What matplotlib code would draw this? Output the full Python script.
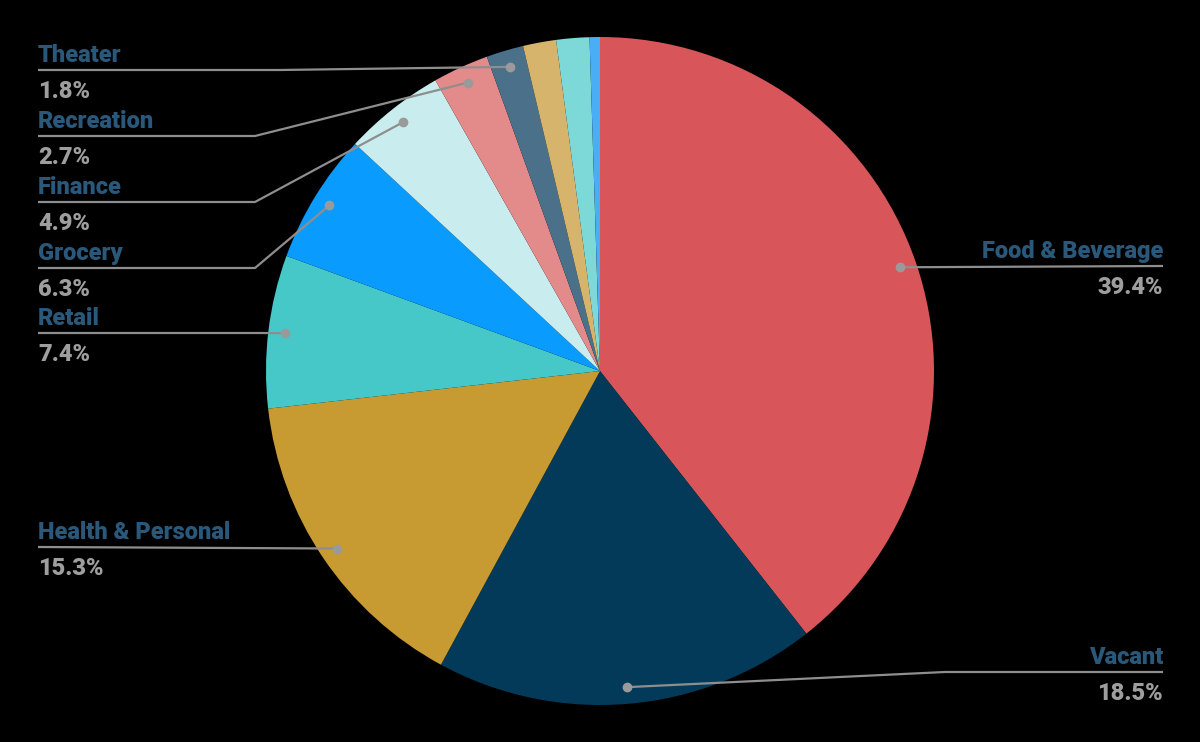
import matplotlib
matplotlib.use("Agg")
import matplotlib.pyplot as plt
import numpy as np

# ---- data ----
categories = ["Food & Beverage", "Vacant", "Health & Personal", "Retail", "Grocery",
              "Finance", "Recreation", "Theater", "Other A", "Other B", "Other C"]
values = [39.4, 18.5, 15.3, 7.4, 6.3, 4.9, 2.7, 1.8, 1.6, 1.6, 0.5]
pct_labels = ["39.4%", "18.5%", "15.3%", "7.4%", "6.3%", "4.9%", "2.7%", "1.8%", "", "", ""]
colors = ["#D8555A", "#033A5A", "#C89A32", "#46C8C8", "#0A9BFF", "#C9EDEE",
          "#E38A8A", "#4B7089", "#D7B46C", "#7DD8D8", "#4AAEF5"]

# label layout (pixel coords, y from top): side, text x, line y, elbow x
label_layout = {
    "Food & Beverage": ("right", 1163, 266, None),
    "Vacant": ("right", 1163, 672, 945),
    "Health & Personal": ("left", 38, 547, None),
    "Retail": ("left", 38, 333, 262),
    "Grocery": ("left", 38, 268, 255),
    "Finance": ("left", 38, 202, 255),
    "Recreation": ("left", 38, 136, 255),
    "Theater": ("left", 38, 70, 280),
}

W, H = 1200, 742
fig = plt.figure(figsize=(W / 100, H / 100), dpi=100, facecolor="black")
ax = fig.add_axes([0, 0, 1, 1])
ax.set_facecolor("black")

cx, cy, R = 600, 371, 334
wedges, _ = ax.pie(values, colors=colors, startangle=90, counterclock=False,
                   center=(cx, cy), radius=R, wedgeprops=dict(linewidth=0))
ax.set_xlim(0, W)
ax.set_ylim(0, H)
ax.set_aspect("equal")
ax.axis("off")

name_color = "#29587A"
pct_color = "#9E9E9E"
line_color = "#8E8E8E"
font = dict(family=["Roboto", "DejaVu Sans"], fontweight="heavy", fontsize=17)

for w, cat, pct in zip(wedges, categories, pct_labels):
    if cat not in label_layout:
        continue
    side, tx, ly, ex = label_layout[cat]
    ang = np.deg2rad((w.theta1 + w.theta2) / 2)
    dx = cx + 0.95 * R * np.cos(ang)
    dy = cy + 0.95 * R * np.sin(ang)
    ly_d = H - ly
    xs = [dx]
    ys = [dy]
    if ex is not None:
        xs.append(ex)
        ys.append(ly_d)
    xs.append(tx)
    ys.append(ly_d)
    ax.plot(xs, ys, color=line_color, lw=1.6, solid_capstyle="butt", zorder=3)
    ax.plot([dx], [dy], "o", color="#9A9A9A", ms=6, zorder=4)
    ha = "left" if side == "left" else "right"
    ax.text(tx, ly_d + 8, cat, color=name_color, ha=ha, va="baseline", **font)
    ax.text(tx, ly_d - 10, pct, color=pct_color, ha=ha, va="top", **font)

fig.savefig("out.png", dpi=100, facecolor="black")
